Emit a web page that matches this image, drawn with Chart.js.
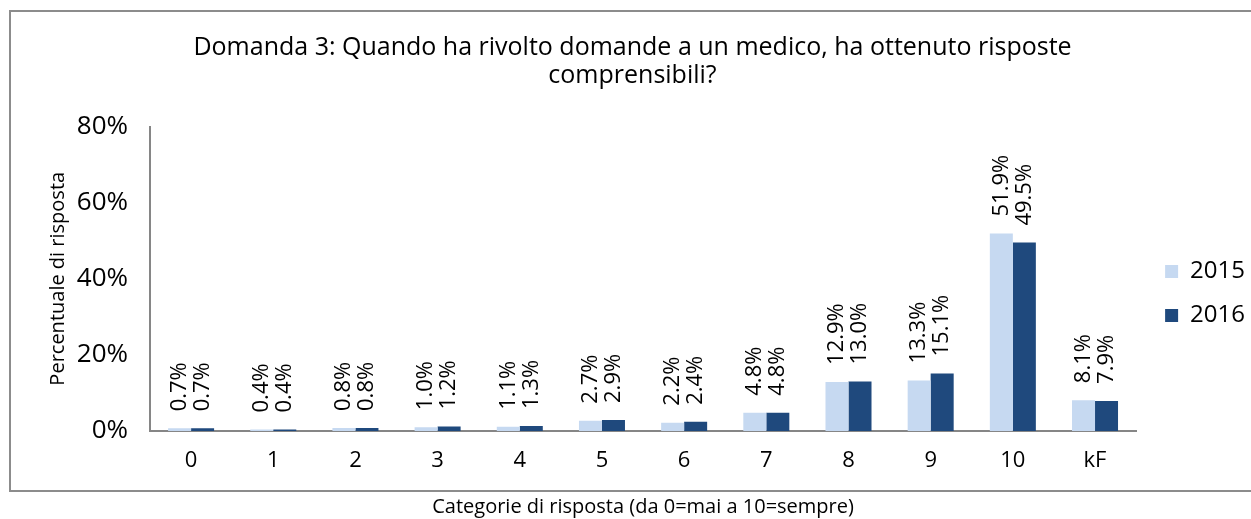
<!DOCTYPE html>
<html>
<head>
<meta charset="utf-8">
<script src="https://cdn.jsdelivr.net/npm/chart.js@4.4.0/dist/chart.umd.min.js"></script>
<style>
  html, body { margin: 0; padding: 0; background: #fff; }
  #wrap { width: 1251px; height: 519px; position: relative; }
</style>
</head>
<body>
<div id="wrap"><canvas id="chart" width="1251" height="519"></canvas></div>
<script>
const categories = ['0', '1', '2', '3', '4', '5', '6', '7', '8', '9', '10', 'kF'];
const values2015 = [0.7, 0.4, 0.8, 1.0, 1.1, 2.7, 2.2, 4.8, 12.9, 13.3, 51.9, 8.1];
const values2016 = [0.7, 0.4, 0.8, 1.2, 1.3, 2.9, 2.4, 4.8, 13.0, 15.1, 49.5, 7.9];
const yTicks = [0, 20, 40, 60, 80];

const FONT = "'Open Sans', 'Noto Sans', sans-serif";

// frame around the chart (open on the right, like the source)
const framePlugin = {
    id: 'frame',
    beforeDraw(chart) {
        const ctx = chart.ctx;
        ctx.save();
        ctx.strokeStyle = '#8c8c8c';
        ctx.lineWidth = 2;
        ctx.beginPath();
        ctx.moveTo(1251, 11);
        ctx.lineTo(10, 11);
        ctx.lineTo(10, 491);
        ctx.lineTo(1251, 491);
        ctx.stroke();
        ctx.restore();
    }
};

// vertical value labels above each bar
const barLabels = {
    id: 'barLabels',
    afterDatasetsDraw(chart) {
        const ctx = chart.ctx;
        ctx.save();
        ctx.font = '22px ' + FONT;
        ctx.fillStyle = '#000';
        ctx.textAlign = 'left';
        ctx.textBaseline = 'middle';
        chart.data.datasets.forEach((ds, i) => {
            chart.getDatasetMeta(i).data.forEach((bar, j) => {
                ctx.save();
                ctx.translate(bar.x, bar.y - 17);
                ctx.rotate(-Math.PI / 2);
                ctx.fillText(ds.data[j].toFixed(1) + '%', 0, 0);
                ctx.restore();
            });
        });
        ctx.restore();
    }
};

new Chart(document.getElementById('chart'), {
    type: 'bar',
    data: {
        labels: categories,
        datasets: [
            { label: '2015', data: values2015, backgroundColor: '#c6d9f1' },
            { label: '2016', data: values2016, backgroundColor: '#1f497d' }
        ]
    },
    options: {
        responsive: false,
        animation: false,
        layout: { padding: { left: 10, right: -4, top: 0, bottom: 0 } },
        datasets: {
            bar: { categoryPercentage: 0.56, barPercentage: 1.0 }
        },
        plugins: {
            title: {
                display: true,
                text: ['Domanda 3: Quando ha rivolto domande a un medico, ha ottenuto risposte', 'comprensibili?'],
                color: '#000',
                font: { family: FONT, size: 25, weight: 'normal', lineHeight: 1.15 },
                padding: { top: 33, bottom: 36 }
            },
            legend: {
                position: 'right',
                title: {
                    display: true,
                    text: ' ',
                    font: { size: 10 },
                    padding: { top: 56, bottom: 0 }
                },
                labels: {
                    color: '#000',
                    font: { family: FONT, size: 24 },
                    boxWidth: 13,
                    boxHeight: 13,
                    padding: 20
                }
            },
            tooltip: { enabled: false }
        },
        scales: {
            x: {
                afterFit(scale) { scale.height = 88; },
                grid: { display: false, drawTicks: false },
                border: { color: '#868686', width: 2 },
                ticks: { color: '#000', font: { family: FONT, size: 22 }, padding: 17 },
                title: {
                    display: true,
                    text: 'Categorie di risposta (da 0=mai a 10=sempre)',
                    color: '#000',
                    font: { family: FONT, size: 20 },
                    padding: { top: 0, bottom: 0 }
                }
            },
            y: {
                min: 0,
                max: 80,
                afterBuildTicks(scale) {
                    scale.ticks = yTicks.map(v => ({ value: v }));
                },
                afterFit(scale) { scale.width = 140; },
                grid: { display: false, drawTicks: false },
                border: { color: '#868686', width: 2 },
                ticks: {
                    color: '#000',
                    font: { family: FONT, size: 26 },
                    padding: 22,
                    callback: v => v + '%'
                },
                title: {
                    display: true,
                    text: 'Percentuale di risposta',
                    color: '#000',
                    font: { family: FONT, size: 20 },
                    padding: { top: 36, bottom: 0 }
                }
            },
            // empty spacer between plot and legend
            gap: {
                type: 'linear',
                position: 'right',
                afterFit(scale) { scale.width = 9; },
                grid: { display: false },
                border: { display: false },
                ticks: { display: false }
            }
        }
    },
    plugins: [framePlugin, barLabels]
});
</script>
</body>
</html>
